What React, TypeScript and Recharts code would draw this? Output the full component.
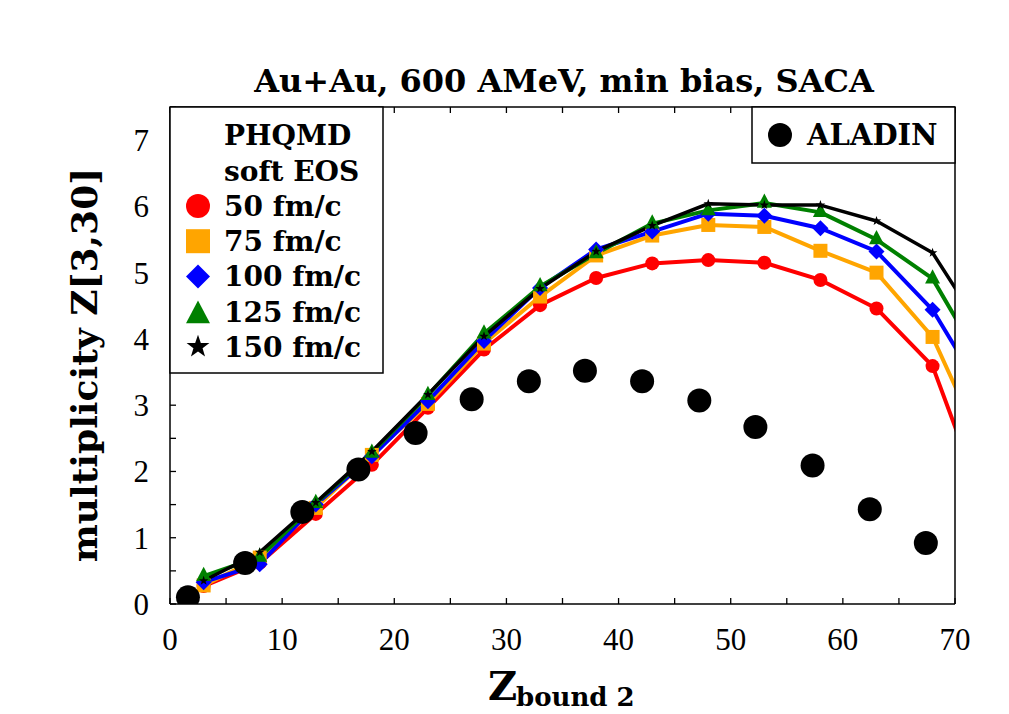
import React from "react";
import { ComposedChart, Line, Scatter, XAxis, YAxis } from "recharts";

// PHQMD (soft EOS) multiplicity of Z in [3,30] vs Z_bound2, at five times
const zBound = [3, 8, 13, 18, 23, 28, 33, 38, 43, 48, 53, 58, 63, 68, 73];
const mult50 = [0.27, 0.62, 1.36, 2.1, 2.96, 3.84, 4.51, 4.92, 5.14, 5.19, 5.15, 4.89, 4.46, 3.59, 1.31];
const mult75 = [0.28, 0.7, 1.45, 2.25, 3.02, 3.93, 4.64, 5.26, 5.56, 5.72, 5.69, 5.33, 5.0, 4.03, 2.18];
const mult100 = [0.33, 0.6, 1.5, 2.23, 3.06, 3.97, 4.77, 5.35, 5.62, 5.89, 5.86, 5.67, 5.32, 4.44, 3.04];
const mult125 = [0.42, 0.71, 1.52, 2.28, 3.15, 4.08, 4.79, 5.29, 5.74, 5.94, 6.05, 5.91, 5.5, 4.91, 3.46];
const mult150 = [0.35, 0.78, 1.53, 2.3, 3.16, 4.04, 4.76, 5.32, 5.71, 6.04, 6.02, 6.02, 5.78, 5.3, 3.98];

// ALADIN data
const aladinZ = [1.6, 6.7, 11.8, 16.8, 21.9, 26.9, 32.0, 37.0, 42.1, 47.2, 52.2, 57.3, 62.4, 67.4];
const aladinMult = [0.1, 0.62, 1.39, 2.03, 2.58, 3.09, 3.36, 3.52, 3.36, 3.07, 2.67, 2.09, 1.43, 0.92];

const xTicks = [0, 5, 10, 15, 20, 25, 30, 35, 40, 45, 50, 55, 60, 65, 70];
const yTicks = [0, 0.5, 1, 1.5, 2, 2.5, 3, 3.5, 4, 4.5, 5, 5.5, 6, 6.5, 7, 7.5];

const W = 1001;
const H = 706;
// axes are 1px thick, so the plot box runs from (162,99) to (947,596)
const M = { top: 98, right: 53, bottom: 109, left: 161 };

const SERIF = "Liberation Serif, DejaVu Serif, serif";
const BOLD = "DejaVu Serif, serif";

type Shape = "circle" | "square" | "diamond" | "triangle" | "star";

const series: { label: string; values: number[]; color: string; shape: Shape; size: number; width: number }[] = [
  { label: "50 fm/c", values: mult50, color: "#ff0000", shape: "circle", size: 14, width: 4 },
  { label: "75 fm/c", values: mult75, color: "#ffa500", shape: "square", size: 14, width: 4 },
  { label: "100 fm/c", values: mult100, color: "#0000ff", shape: "diamond", size: 16, width: 4 },
  { label: "125 fm/c", values: mult125, color: "#008000", shape: "triangle", size: 15, width: 4 },
  { label: "150 fm/c", values: mult150, color: "#000000", shape: "star", size: 10, width: 3.5 },
];

function Marker({ shape, cx, cy, size, color }: { shape: Shape; cx: number; cy: number; size: number; color: string }) {
  const h = size / 2;
  if (shape === "circle") return <circle cx={cx} cy={cy} r={h} fill={color} />;
  if (shape === "square") return <rect x={cx - h} y={cy - h} width={size} height={size} fill={color} />;
  if (shape === "diamond") {
    return <polygon points={`${cx},${cy - h} ${cx + h},${cy} ${cx},${cy + h} ${cx - h},${cy}`} fill={color} />;
  }
  if (shape === "triangle") {
    const th = size * 0.95;
    return (
      <polygon
        points={`${cx},${cy - (th * 2) / 3} ${cx + h},${cy + th / 3} ${cx - h},${cy + th / 3}`}
        fill={color}
      />
    );
  }
  const pts: string[] = [];
  for (let i = 0; i < 10; i++) {
    const r = i % 2 === 0 ? h : h * 0.4;
    const a = -Math.PI / 2 + (i * Math.PI) / 5;
    pts.push(`${cx + r * Math.cos(a)},${cy + r * Math.sin(a)}`);
  }
  return <polygon points={pts.join(" ")} fill={color} />;
}

const tickStroke = { stroke: "#000", strokeWidth: 1.3 };

function BottomTick({ x, y, payload }: any) {
  const v = payload.value;
  return (
    <g>
      <line x1={x} x2={x} y1={y} y2={y - 6} {...tickStroke} />
      {v % 10 === 0 && (
        <text x={x} y={y + 46} textAnchor="middle" fontSize={31} fontFamily={SERIF} fill="#000">
          {v}
        </text>
      )}
    </g>
  );
}

function TopTick({ x, y }: any) {
  return <line x1={x} x2={x} y1={y} y2={y + 6} {...tickStroke} />;
}

function LeftTick({ x, y, payload }: any) {
  const v = payload.value;
  return (
    <g>
      <line x1={x} x2={x + 6} y1={y} y2={y} {...tickStroke} />
      {v % 1 === 0 && (
        <text x={x - 21} y={y + 11} textAnchor="end" fontSize={31} fontFamily={SERIF} fill="#000">
          {v}
        </text>
      )}
    </g>
  );
}

function RightTick({ x, y }: any) {
  return <line x1={x} x2={x - 6} y1={y} y2={y} {...tickStroke} />;
}

export default function App() {
  const aladin = aladinZ.map((z, i) => ({ z, m: aladinMult[i] }));
  const axisLine = { stroke: "#000", strokeWidth: 1.5 };

  return (
    <div style={{ position: "relative", width: W, height: H }}>
      <ComposedChart width={W} height={H} margin={M}>
        <XAxis
          dataKey="z"
          type="number"
          domain={[0, 70]}
          allowDataOverflow
          ticks={xTicks}
          interval={0}
          height={1}
          tickSize={0}
          tickMargin={0}
          tickLine={false}
          axisLine={axisLine}
          tick={<BottomTick />}
        />
        <XAxis
          xAxisId="top"
          orientation="top"
          dataKey="z"
          type="number"
          domain={[0, 70]}
          allowDataOverflow
          ticks={xTicks}
          interval={0}
          height={1}
          tickSize={0}
          tickMargin={0}
          tickLine={false}
          axisLine={axisLine}
          tick={<TopTick />}
        />
        <YAxis
          type="number"
          domain={[0, 7.5]}
          allowDataOverflow
          ticks={yTicks}
          interval={0}
          width={1}
          tickSize={0}
          tickMargin={0}
          tickLine={false}
          axisLine={axisLine}
          tick={<LeftTick />}
        />
        <YAxis
          yAxisId="right"
          orientation="right"
          type="number"
          domain={[0, 7.5]}
          ticks={yTicks}
          interval={0}
          width={1}
          tickSize={0}
          tickMargin={0}
          tickLine={false}
          axisLine={axisLine}
          tick={<RightTick />}
        />
        {series.map((s) => (
          <Line
            key={s.label}
            data={zBound.map((z, i) => ({ z, m: s.values[i] }))}
            dataKey="m"
            stroke={s.color}
            strokeWidth={s.width}
            strokeLinejoin="round"
            isAnimationActive={false}
            dot={(p: any) => (
              <Marker key={p.index} shape={s.shape} cx={p.cx} cy={p.cy} size={s.size} color={s.color} />
            )}
            activeDot={false}
          />
        ))}
        <Scatter
          data={aladin}
          dataKey="m"
          isAnimationActive={false}
          shape={(p: any) => <circle cx={p.cx} cy={p.cy} r={12} fill="#000" />}
        />
      </ComposedChart>

      <svg
        width={W}
        height={H}
        style={{ position: "absolute", left: 0, top: 0, pointerEvents: "none" }}
      >
        <text x={556} y={84} textAnchor="middle" fontSize={32} fontWeight="bold" fontFamily={BOLD} fill="#000">
          Au+Au, 600 AMeV, min bias, SACA
        </text>

        <text
          transform="translate(89,357) rotate(-90)"
          textAnchor="middle"
          fontSize={36}
          fontWeight="bold"
          fontFamily={BOLD}
          fill="#000"
        >
          multiplicity Z[3,30]
        </text>

        <text x={480} y={692} fontSize={40} fontWeight="bold" fontFamily={BOLD} fill="#000">
          Z
          <tspan x={508} y={698} fontSize={26}>
            bound 2
          </tspan>
        </text>

        {/* model legend */}
        <rect x={162} y={99} width={213} height={266} fill="#fff" stroke="#000" strokeWidth={1.5} />
        <g fontSize={28} fontWeight="bold" fontFamily={BOLD} fill="#000">
          <text x={216} y={137}>PHQMD</text>
          <text x={216} y={173}>soft EOS</text>
          {series.map((s, i) => (
            <g key={s.label}>
              <Marker
                shape={s.shape}
                cx={190}
                cy={i === 3 ? 202 + i * 35.2 : 198 + i * 35.2}
                size={24}
                color={s.color}
              />
              <text x={216} y={208 + i * 35.2}>
                {s.label}
              </text>
            </g>
          ))}
        </g>

        {/* data legend */}
        <rect x={744} y={99} width={203} height={56} fill="#fff" stroke="#000" strokeWidth={1.5} />
        <circle cx={772} cy={127} r={12} fill="#000" />
        <text x={799} y={137} fontSize={29} fontWeight="bold" fontFamily={BOLD} fill="#000">
          ALADIN
        </text>
      </svg>
    </div>
  );
}
